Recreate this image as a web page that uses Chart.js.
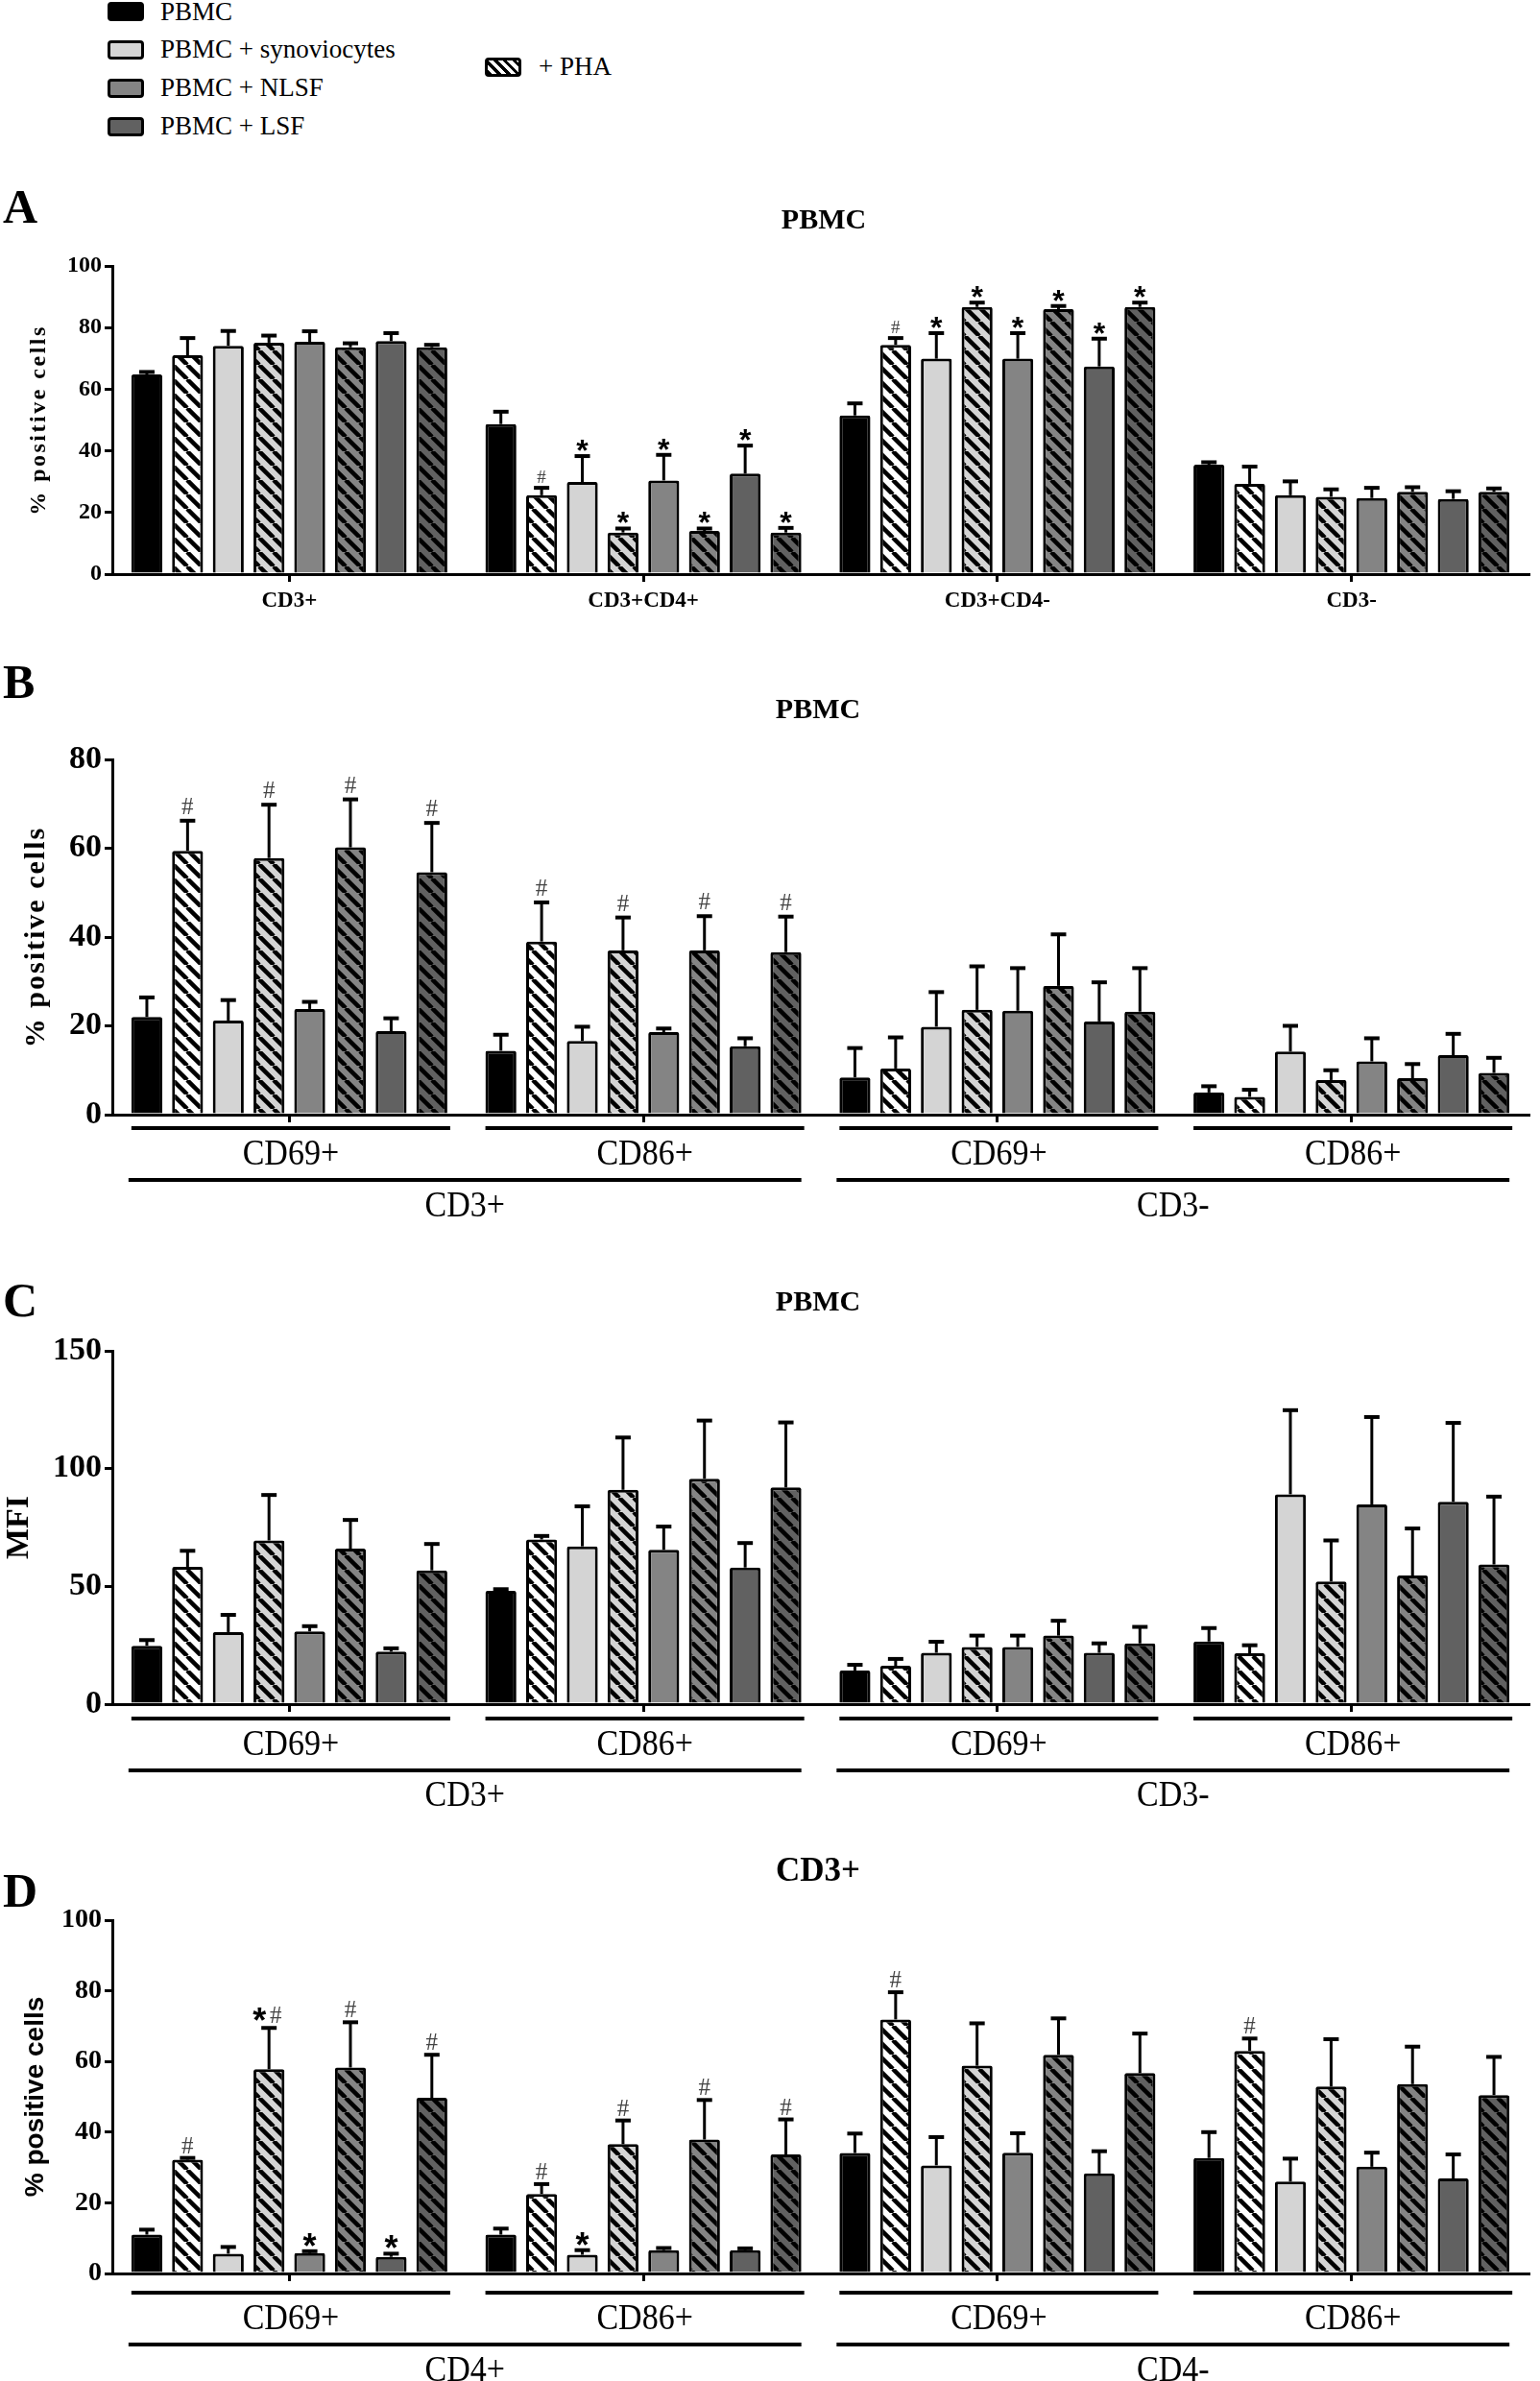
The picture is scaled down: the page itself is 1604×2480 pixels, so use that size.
<!DOCTYPE html>
<html>
<head>
<meta charset="utf-8">
<script src="https://cdn.jsdelivr.net/npm/chart.js@4.4.0/dist/chart.umd.min.js"></script>
<style>
    body { margin: 0; width: 1604px; height: 2480px; background: #fff; position: relative; overflow: hidden;
           font-family: 'Liberation Serif', 'Times New Roman', serif; }
    canvas { position: absolute; left: 0; }
    .txt { position: absolute; line-height: 1; white-space: nowrap; color: #000; }
    .letter { font-weight: bold; font-size: 50px; left: 3px; }
    .title { font-weight: bold; font-size: 30px; transform: translateX(-50%); }
    .leg { font-size: 27px; left: 167px; }
    .swatch { position: absolute; left: 112px; width: 32px; height: 14px; border: 3px solid #000; border-radius: 4px; }
</style>
</head>
<body>
<canvas id="chartA" width="1604" height="490" style="top:170px"></canvas>
<canvas id="chartB" width="1604" height="600" style="top:690px"></canvas>
<canvas id="chartC" width="1604" height="580" style="top:1320px"></canvas>
<canvas id="chartD" width="1604" height="550" style="top:1930px"></canvas>

<!-- legend -->
<div class="swatch" style="top:2px;background:#000"></div>
<div class="swatch" style="top:42px;background:#d4d4d4"></div>
<div class="swatch" style="top:82px;background:#848484"></div>
<div class="swatch" style="top:122px;background:#616161"></div>
<div class="txt leg" style="top:-1px">PBMC</div>
<div class="txt leg" style="top:38px">PBMC + synoviocytes</div>
<div class="txt leg" style="top:78px">PBMC + NLSF</div>
<div class="txt leg" style="top:118px">PBMC + LSF</div>
<div class="swatch" style="left:505px;top:60px;background:repeating-linear-gradient(45deg,#000 0 3px,#fff 3px 7px)"></div>
<div class="txt leg" style="left:561px;top:56px">+ PHA</div>

<!-- panel letters and titles -->
<div class="txt letter" style="top:190px">A</div>
<div class="txt letter" style="top:685px">B</div>
<div class="txt letter" style="top:1329px">C</div>
<div class="txt letter" style="top:1944px">D</div>
<div class="txt title" style="left:858px;top:213px">PBMC</div>
<div class="txt title" style="left:852px;top:723px">PBMC</div>
<div class="txt title" style="left:852px;top:1340px">PBMC</div>
<div class="txt title" style="left:852px;top:1930px;font-size:35px">CD3+</div>

<script>
// series order: PBMC, +PHA, synoviocytes, +PHA, NLSF, +PHA, LSF, +PHA
const noMarks = ['', '', '', '', '', '', '', ''];

// Panel A - PBMC, % positive cells
const aLabels = ['CD3+', 'CD3+CD4+', 'CD3+CD4-', 'CD3-'];
const aCd3Mean = [64.8, 71.0, 74.1, 75.1, 75.4, 73.6, 75.6, 73.6];
const aCd3Sem = [0.8, 5.6, 4.8, 2.3, 3.4, 1.3, 2.6, 0.8];
const aCd4posMean = [48.7, 25.6, 29.9, 13.5, 30.4, 14.0, 32.6, 13.5];
const aCd4posSem = [4.0, 2.4, 8.4, 1.3, 8.3, 0.8, 9.1, 1.5];
const aCd4posMarks = ['', '#', '*', '*', '*', '*', '*', '*'];
const aCd4negMean = [51.5, 74.4, 69.9, 86.7, 69.9, 86.0, 67.4, 86.7];
const aCd4negSem = [3.9, 2.2, 8.3, 1.4, 8.3, 1.0, 9.0, 1.4];
const aCd4negMarks = ['', '#', '*', '*', '*', '*', '*', '*'];
const aCd3negMean = [35.5, 29.3, 25.6, 25.1, 24.7, 26.7, 24.4, 26.7];
const aCd3negSem = [0.8, 5.6, 4.5, 2.4, 3.3, 1.5, 2.5, 1.1];

// Panel B - PBMC, % positive cells
const bLabels = ['CD69+', 'CD86+', 'CD69+', 'CD86+'];
const bPosCd69Mean = [22.0, 59.4, 21.2, 57.8, 23.8, 60.2, 18.8, 54.6];
const bPosCd69Sem = [4.4, 6.8, 4.6, 12.0, 1.6, 10.8, 2.9, 11.1];
const bPosCd86Mean = [14.4, 39.0, 16.6, 37.0, 18.6, 37.0, 15.4, 36.6];
const bPosCd86Sem = [3.6, 8.8, 3.2, 7.4, 0.8, 7.7, 1.8, 8.0];
const bNegCd69Mean = [8.4, 10.4, 19.8, 23.6, 23.4, 29.0, 21.0, 23.2];
const bNegCd69Sem = [6.6, 7.0, 7.8, 9.8, 9.6, 11.6, 8.8, 9.8];
const bNegCd86Mean = [5.0, 4.0, 14.2, 7.8, 12.0, 8.2, 13.4, 9.4];
const bNegCd86Sem = [1.4, 1.6, 5.8, 2.2, 5.2, 3.2, 4.8, 3.4];
const bPhaMarks = ['', '#', '', '#', '', '#', '', '#'];
const bMainLabels = ['CD3+', 'CD3-'];

// Panel C - PBMC, MFI
const cPosCd69Mean = [24.8, 58.3, 30.6, 69.5, 30.9, 66.0, 22.3, 56.8];
const cPosCd69Sem = [2.4, 6.8, 7.3, 19.3, 2.2, 12.2, 1.4, 11.2];
const cPosCd86Mean = [48.1, 69.9, 67.0, 91.0, 65.5, 95.7, 58.0, 92.0];
const cPosCd86Sem = [0.7, 1.5, 17.0, 22.2, 9.9, 24.7, 10.4, 27.6];
const cNegCd69Mean = [14.3, 16.3, 21.8, 24.3, 24.3, 29.1, 21.8, 25.8];
const cNegCd69Sem = [2.4, 2.9, 4.7, 4.8, 4.8, 6.3, 4.0, 7.0];
const cNegCd86Mean = [26.6, 21.6, 89.1, 52.1, 84.8, 54.6, 85.9, 59.3];
const cNegCd86Sem = [5.7, 3.4, 35.7, 17.4, 37.1, 20.0, 33.5, 28.8];

// Panel D - CD3+, % positive cells
const dPosCd69Mean = [11.0, 32.2, 5.6, 57.8, 5.8, 58.3, 4.7, 49.7];
const dPosCd69Sem = [1.4, 0.5, 1.9, 11.7, 0.5, 12.8, 0.9, 12.2];
const dPosCd69Marks = ['', '#', '', '*#', '*', '#', '*', '#'];
const dPosCd86Mean = [11.0, 22.5, 5.3, 36.6, 6.6, 37.9, 6.6, 33.7];
const dPosCd86Sem = [1.7, 2.8, 1.3, 6.7, 0.6, 11.2, 0.5, 9.9];
const dPosCd86Marks = ['', '#', '*', '#', '', '#', '', '#'];
const dNegCd69Mean = [34.1, 71.9, 30.6, 58.8, 34.2, 61.9, 28.3, 56.7];
const dNegCd69Sem = [5.5, 7.7, 8.0, 12.0, 5.5, 10.3, 6.3, 11.2];
const dNegCd86Mean = [32.7, 63.0, 26.0, 52.9, 30.2, 53.6, 26.9, 50.5];
const dNegCd86Sem = [7.3, 3.5, 6.5, 13.4, 4.0, 10.6, 6.8, 10.8];
const dPhaMarks = ['', '#', '', '', '', '', '', ''];
const dMainLabels = ['CD4+', 'CD4-'];

const SERIF = "'Liberation Serif', 'Times New Roman', serif";
const SANS = "'Liberation Sans', Arial, sans-serif";

// hatched fill for the +PHA bars
function makeHatch(fill) {
    const s = 15;
    const c = document.createElement('canvas');
    c.width = s; c.height = s;
    const g = c.getContext('2d');
    g.fillStyle = fill;
    g.fillRect(0, 0, s, s);
    g.strokeStyle = '#000';
    g.lineWidth = 4.5;
    [-s, 0, s].forEach(x0 => {
        g.beginPath();
        g.moveTo(x0, 0);
        g.lineTo(x0 + s, s);
        g.stroke();
    });
    return g.createPattern(c, 'repeat');
}

const baseFills = ['#000000', '#ffffff', '#d4d4d4', '#d4d4d4', '#848484', '#848484', '#616161', '#616161'];
const fills = baseFills.map((f, i) => i % 2 === 1 ? makeHatch(f) : f);

// draw a glyph so that its lowest inked pixel sits at yBottom
function markAt(ctx, ch, x, yBottom) {
    const m = ctx.measureText(ch);
    ctx.fillText(ch, x, yBottom - m.actualBoundingBoxDescent);
}

// Error bars and significance marks
const errorBars = {
    id: 'errorBars',
    afterDatasetsDraw(chart) {
        const ctx = chart.ctx;
        const y = chart.scales.y;
        const opt = chart.options.plugins.errorBars;
        chart.data.datasets.forEach((ds, i) => {
            chart.getDatasetMeta(i).data.forEach((bar, j) => {
                const top = y.getPixelForValue(ds.data[j] + ds.sem[j]);
                ctx.save();
                ctx.strokeStyle = '#000';
                ctx.lineWidth = 3;
                ctx.beginPath();
                ctx.moveTo(bar.x, bar.y);
                ctx.lineTo(bar.x, top);
                ctx.stroke();
                ctx.lineWidth = 4;
                ctx.beginPath();
                ctx.moveTo(bar.x - 8, top);
                ctx.lineTo(bar.x + 8, top);
                ctx.stroke();

                const m = ds.marks[j];
                ctx.textAlign = 'center';
                ctx.textBaseline = 'alphabetic';
                const both = m.length > 1;
                if (m.includes('*')) {
                    ctx.font = 'bold ' + opt.star + 'px ' + SANS;
                    ctx.fillStyle = '#000';
                    markAt(ctx, '*', bar.x - (both ? 10 : 0), top - opt.gap - (both ? 2 : 0));
                }
                if (m.includes('#')) {
                    ctx.font = opt.hash + 'px ' + SERIF;
                    ctx.fillStyle = '#444';
                    markAt(ctx, '#', bar.x + (both ? 7 : 0), top - opt.gap);
                }
                ctx.restore();
            });
        });
    }
};

// label text is a little taller than plain Times in the figure
function tallText(ctx, text, x, y) {
    ctx.save();
    ctx.translate(x, y);
    ctx.scale(1, 1.12);
    ctx.fillText(text, 0, 0);
    ctx.restore();
}

// Group lines and labels under the x axis
const brackets = {
    id: 'brackets',
    afterDraw(chart) {
        const opt = chart.options.plugins.brackets;
        if (!opt || !opt.main) return;
        const ctx = chart.ctx;
        const first = chart.getDatasetMeta(0).data;
        const last = chart.getDatasetMeta(7).data;
        const base = chart.chartArea.bottom;
        const left = i => first[i].x - first[i].width / 2;
        const right = i => last[i].x + last[i].width / 2;
        ctx.save();
        ctx.strokeStyle = '#000';
        ctx.fillStyle = '#000';
        ctx.lineWidth = 4;
        ctx.font = '34px ' + SERIF;
        ctx.textAlign = 'center';
        ctx.textBaseline = 'alphabetic';
        chart.data.labels.forEach((lab, i) => {
            const x0 = left(i), x1 = right(i) + 3;
            ctx.beginPath();
            ctx.moveTo(x0, base + opt.sub);
            ctx.lineTo(x1, base + opt.sub);
            ctx.stroke();
            tallText(ctx, lab, (x0 + x1) / 2, base + opt.subText + 12);
        });
        opt.main.forEach((lab, k) => {
            const x0 = left(2 * k) - 3, x1 = right(2 * k + 1);
            ctx.beginPath();
            ctx.moveTo(x0, base + opt.line);
            ctx.lineTo(x1, base + opt.line);
            ctx.stroke();
            tallText(ctx, lab, (x0 + x1) / 2, base + opt.lineText + 12);
        });
        ctx.restore();
    }
};

// Rotated y-axis title
const yTitle = {
    id: 'yTitle',
    afterDraw(chart) {
        const opt = chart.options.plugins.yTitle;
        const ctx = chart.ctx;
        const a = chart.chartArea;
        ctx.save();
        ctx.translate(opt.x, (a.top + a.bottom) / 2);
        ctx.rotate(-Math.PI / 2);
        ctx.font = 'bold ' + opt.size + 'px ' + opt.family;
        if ('letterSpacing' in ctx) ctx.letterSpacing = opt.spacing + 'px';
        ctx.fillStyle = '#000';
        ctx.textAlign = 'center';
        ctx.textBaseline = 'middle';
        ctx.fillText(opt.text, 0, 0);
        ctx.restore();
    }
};

function makePanel(id, p) {
    const datasets = baseFills.map((f, s) => ({
        label: 'series ' + s,
        data: p.groups.map(g => g.mean[s]),
        sem: p.groups.map(g => g.sem[s]),
        marks: p.groups.map(g => g.marks[s]),
        backgroundColor: fills[s],
        borderColor: '#000',
        borderWidth: 3,
        borderRadius: 2,
        categoryPercentage: 0.92,
        barPercentage: 0.76
    }));

    new Chart(document.getElementById(id), {
        type: 'bar',
        data: { labels: p.labels, datasets: datasets },
        plugins: [errorBars, brackets, yTitle],
        options: {
            responsive: false,
            animation: false,
            layout: { padding: { top: p.padTop, left: 0, right: 12, bottom: 0 } },
            plugins: {
                legend: { display: false },
                tooltip: { enabled: false },
                errorBars: p.marks,
                brackets: p.brackets,
                yTitle: p.yTitle
            },
            scales: {
                x: {
                    ticks: {
                        display: p.showTicks, color: '#000', padding: 6, autoSkip: false, maxRotation: 0,
                        font: { family: SERIF, weight: 'bold', size: 23 }
                    },
                    grid: { offset: false, drawOnChartArea: false, drawTicks: true, tickLength: 8, color: '#000', lineWidth: 3 },
                    border: { display: true, color: '#000', width: 3 },
                    afterFit: s => { s.height = p.xHeight; }
                },
                y: {
                    min: 0,
                    max: p.yMax,
                    ticks: {
                        stepSize: p.yStep, autoSkip: false, color: '#000', padding: 3,
                        font: { family: SERIF, weight: 'bold', size: p.tickSize }
                    },
                    grid: { drawOnChartArea: false, drawTicks: true, tickLength: 8, color: '#000', lineWidth: 3 },
                    border: { display: true, color: '#000', width: 3 },
                    afterFit: s => { s.width = 117; }
                }
            }
        }
    });
}

makePanel('chartA', {
    labels: aLabels,
    groups: [
        { mean: aCd3Mean, sem: aCd3Sem, marks: noMarks },
        { mean: aCd4posMean, sem: aCd4posSem, marks: aCd4posMarks },
        { mean: aCd4negMean, sem: aCd4negSem, marks: aCd4negMarks },
        { mean: aCd3negMean, sem: aCd3negSem, marks: noMarks }
    ],
    yMax: 100, yStep: 20, tickSize: 24, padTop: 107, xHeight: 62, showTicks: true,
    marks: { hash: 19, star: 32, gap: 5 },
    brackets: {},
    yTitle: { text: '% positive cells', x: 41, size: 24, spacing: 2.5, family: SERIF }
});

makePanel('chartB', {
    labels: bLabels,
    groups: [
        { mean: bPosCd69Mean, sem: bPosCd69Sem, marks: bPhaMarks },
        { mean: bPosCd86Mean, sem: bPosCd86Sem, marks: bPhaMarks },
        { mean: bNegCd69Mean, sem: bNegCd69Sem, marks: noMarks },
        { mean: bNegCd86Mean, sem: bNegCd86Sem, marks: noMarks }
    ],
    yMax: 80, yStep: 20, tickSize: 34, padTop: 101, xHeight: 129, showTicks: false,
    marks: { hash: 25, star: 34, gap: 7 },
    brackets: { main: bMainLabels, sub: 14, subText: 40, line: 68, lineText: 94 },
    yTitle: { text: '% positive cells', x: 38, size: 30, spacing: 2, family: SERIF }
});

makePanel('chartC', {
    labels: bLabels,
    groups: [
        { mean: cPosCd69Mean, sem: cPosCd69Sem, marks: noMarks },
        { mean: cPosCd86Mean, sem: cPosCd86Sem, marks: noMarks },
        { mean: cNegCd69Mean, sem: cNegCd69Sem, marks: noMarks },
        { mean: cNegCd86Mean, sem: cNegCd86Sem, marks: noMarks }
    ],
    yMax: 150, yStep: 50, tickSize: 34, padTop: 87, xHeight: 125, showTicks: false,
    marks: { hash: 25, star: 34, gap: 7 },
    brackets: { main: bMainLabels, sub: 15, subText: 41, line: 69, lineText: 94 },
    yTitle: { text: 'MFI', x: 20, size: 34, spacing: 0, family: SERIF }
});

makePanel('chartD', {
    labels: bLabels,
    groups: [
        { mean: dPosCd69Mean, sem: dPosCd69Sem, marks: dPosCd69Marks },
        { mean: dPosCd86Mean, sem: dPosCd86Sem, marks: dPosCd86Marks },
        { mean: dNegCd69Mean, sem: dNegCd69Sem, marks: dPhaMarks },
        { mean: dNegCd86Mean, sem: dNegCd86Sem, marks: dPhaMarks }
    ],
    yMax: 100, yStep: 20, tickSize: 28, padTop: 70, xHeight: 112, showTicks: false,
    marks: { hash: 25, star: 36, gap: 5 },
    brackets: { main: dMainLabels, sub: 20, subText: 46, line: 74, lineText: 100 },
    yTitle: { text: '% positive cells', x: 37, size: 28, spacing: 0, family: SANS }
});
</script>
</body>
</html>
